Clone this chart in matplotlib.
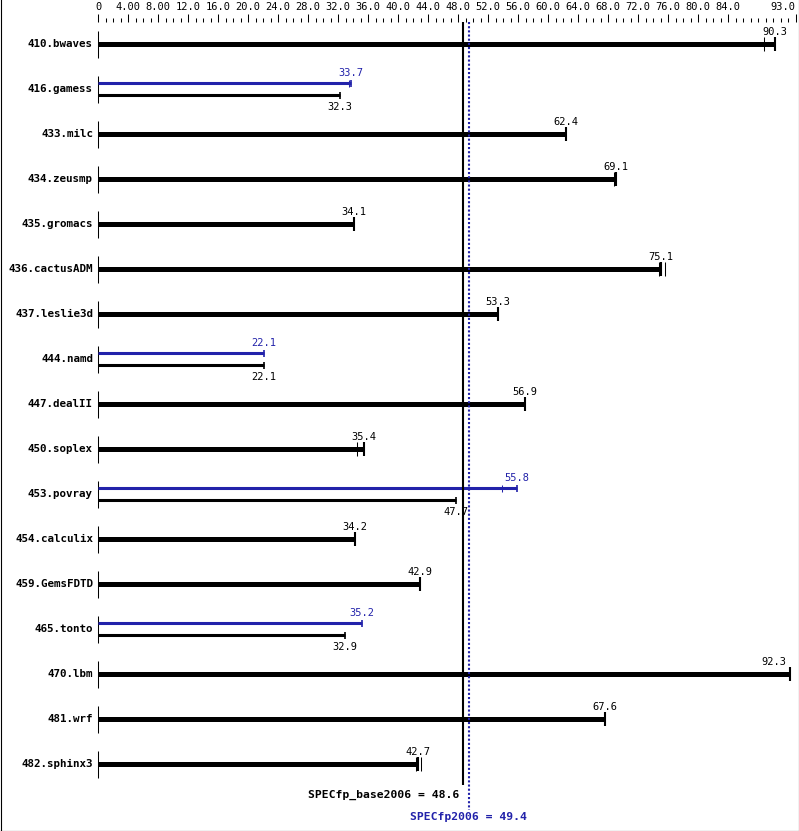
import matplotlib
matplotlib.use("Agg")
import matplotlib.pyplot as plt
from matplotlib.lines import Line2D
from matplotlib.ticker import FixedLocator, MultipleLocator

# SPEC CPU2006 floating point results
benchmarks = ["410.bwaves", "416.gamess", "433.milc", "434.zeusmp", "435.gromacs",
              "436.cactusADM", "437.leslie3d", "444.namd", "447.dealII", "450.soplex",
              "453.povray", "454.calculix", "459.GemsFDTD", "465.tonto", "470.lbm",
              "481.wrf", "482.sphinx3"]
base = [90.3, 32.3, 62.4, 69.1, 34.1, 75.1, 53.3, 22.1, 56.9, 35.4,
        47.7, 34.2, 42.9, 32.9, 92.3, 67.6, 42.7]
peak = [None, 33.7, None, None, None, None, None, 22.1, None, None,
        55.8, None, None, 35.2, None, None, None]
# other run values shown as small ticks
base_runs = {0: [88.8], 3: [68.85], 5: [74.8, 75.6], 9: [34.55], 16: [42.35, 43.0]}
peak_runs = {1: [33.45], 10: [53.8]}

base_score = 48.6
peak_score = 49.4

tick_vals = [0, 4, 8, 12, 16, 20, 24, 28, 32, 36, 40, 44, 48, 52, 56, 60,
             64, 68, 72, 76, 80, 84, 93]
tick_text = ["0", "4.00", "8.00", "12.0", "16.0", "20.0", "24.0", "28.0", "32.0",
             "36.0", "40.0", "44.0", "48.0", "52.0", "56.0", "60.0", "64.0", "68.0",
             "72.0", "76.0", "80.0", "84.0", "93.0"]

BLUE = "#2222aa"
MONO = "DejaVu Sans Mono"
W, H = 799, 831
ROW = 45.0  # pixels per benchmark row
XMAX = 93


def px(n):
    return n / ROW


def value_label(x, y, color="k"):
    # labels near the right edge are pulled inside the frame
    if x > XMAX - 2:
        ax.annotate(f"{x:.1f}", (x, y), xytext=(-4, 0), textcoords="offset pixels",
                    ha="right", va="center", fontsize=7.5, family=MONO, color=color)
    else:
        ax.text(x, y, f"{x:.1f}", ha="center", va="center", fontsize=7.5,
                family=MONO, color=color)


fig = plt.figure(figsize=(W / 100, H / 100), dpi=100)
ax = fig.add_axes([98 / W, 0, 697.5 / W, 1 - 22 / H])
ax.set_xlim(0, XMAX)
ax.set_ylim((H - 44) / ROW, -22 / ROW)

for s in ax.spines.values():
    s.set_visible(False)
ax.yaxis.set_visible(False)
ax.xaxis.tick_top()
ax.xaxis.set_major_locator(FixedLocator(tick_vals))
ax.xaxis.set_minor_locator(MultipleLocator(1))
ax.set_xticklabels(tick_text, fontsize=7.5, family=MONO)
ax.tick_params(axis="x", which="major", length=6, width=0.75, pad=1.5, direction="out")
ax.tick_params(axis="x", which="minor", length=3, width=0.75, direction="out")
ax.get_xticklabels()[-1].set_ha("right")

for i, name in enumerate(benchmarks):
    ax.vlines(0, i - px(13.5), i + px(13.5), color="k", lw=0.75, clip_on=False)
    ax.annotate(name, (0, i), xytext=(-5, 0), textcoords="offset pixels",
                ha="right", va="center", fontsize=7.8, family=MONO, weight="bold")
    if peak[i] is None:
        ax.hlines(i, 0, base[i], color="k", lw=3.6)
        ax.vlines(base[i], i - px(7), i + px(7), color="k", lw=1.5)
        for r in base_runs.get(i, []):
            ax.vlines(r, i - px(7), i + px(7), color="k", lw=0.75)
        value_label(base[i], i - px(12))
    else:
        yp, yb = i - px(6), i + px(6)
        ax.hlines(yp, 0, peak[i], color=BLUE, lw=2.2)
        ax.vlines(peak[i], yp - px(3.5), yp + px(3.5), color=BLUE, lw=1.2)
        for r in peak_runs.get(i, []):
            ax.vlines(r, yp - px(3.5), yp + px(3.5), color=BLUE, lw=0.75)
        value_label(peak[i], i - px(16), BLUE)
        ax.hlines(yb, 0, base[i], color="k", lw=2.2)
        ax.vlines(base[i], yb - px(3.5), yb + px(3.5), color="k", lw=1.2)
        value_label(base[i], i + px(17.5))

# overall scores
ax.vlines(base_score, -22 / ROW, px(785 - 44), color="k", lw=1.5)
ax.vlines(peak_score, -22 / ROW, px(810 - 44), color=BLUE, lw=1.5,
          linestyles=(0, (1, 1)))
ax.annotate(f"SPECfp_base2006 = {base_score}", (base_score, px(795 - 44)),
            xytext=(-3, 0), textcoords="offset pixels", ha="right", va="center",
            fontsize=8.2, family=MONO, weight="bold")
ax.text(peak_score, px(817 - 44), f"SPECfp2006 = {peak_score}", ha="center",
        va="center", fontsize=8.2, family=MONO, weight="bold", color=BLUE)

# frame around the picture
for xs, ys in [([0.5 / W, 0.5 / W], [0, 1]), ([1 - 0.5 / W, 1 - 0.5 / W], [0, 1]),
               ([0, 1], [0.5 / H, 0.5 / H])]:
    fig.add_artist(Line2D(xs, ys, transform=fig.transFigure, color="k", lw=0.8))

fig.savefig("out.png", dpi=100)
